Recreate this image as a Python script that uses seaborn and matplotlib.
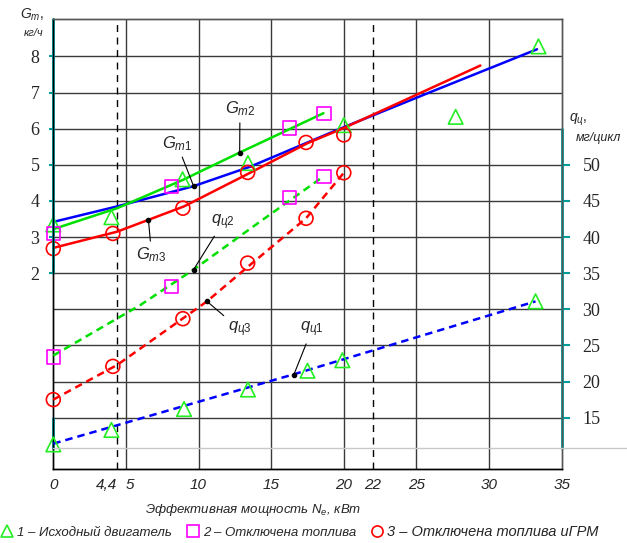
import numpy as np
import pandas as pd
import matplotlib
matplotlib.use("Agg")
import matplotlib.pyplot as plt
from matplotlib.lines import Line2D
import seaborn as sns

# ---------------- data ----------------
# solid curves: fuel consumption G_t, kg/h
gt1_x = [0, 4.4, 9.66, 13.56, 19.8, 26.0, 33.3]
gt1_y = [3.42, 3.85, 4.41, 4.95, 6.01, 7.02, 8.2]
gt2_x = [0, 4.4, 8.9, 12.83, 18.6]
gt2_y = [3.22, 3.8, 4.58, 5.34, 6.43]
gt3_x = [0, 4.4, 9.0, 13.4, 17.5, 20.0, 29.4]
gt3_y = [2.7, 3.15, 3.85, 4.75, 5.6, 6.02, 7.75]

# dashed curves: cyclic fuel supply q_c, mg/cycle
q1_x = [0, 16.55, 33.2]
q1_y = [11.4, 21.0, 31.1]
q2_x = [0, 6.0, 9.66, 14.0, 18.6]
q2_y = [23.6, 30.6, 35.5, 41.8, 48.4]
q3_x = [0, 4.4, 10.58, 13.4, 17.4, 20.0]
q3_y = [17.5, 22.3, 31.1, 35.9, 42.6, 48.9]

# measured points
m1_gx = [0, 4.0, 8.9, 13.4, 20.0, 27.7, 33.4]
m1_g = [3.35, 3.55, 4.6, 5.05, 6.1, 6.33, 8.28]
m1_qx = [0, 4.0, 9.0, 13.4, 17.5, 19.9, 33.2]
m1_q = [11.3, 13.3, 16.2, 18.9, 21.5, 22.95, 31.1]
m2_x = [0, 8.16, 16.28, 18.63]
m2_g = [3.1, 4.40, 6.02, 6.43]
m2_q = [23.4, 33.2, 45.5, 48.4]
m3_x = [0, 4.1, 8.92, 13.38, 17.4, 20.0]
m3_g = [2.68, 3.1, 3.80, 4.79, 5.62, 5.83]
m3_q = [17.5, 22.1, 28.7, 36.4, 42.6, 48.9]

x_ticks = [0, 4.4, 5, 10, 15, 20, 22, 25, 30, 35]
x_ticklabels = ["0", "4,4", "5", "10", "15", "20", "22", "25", "30", "35"]
g_ticks = [2, 3, 4, 5, 6, 7, 8]
q_ticks = [15, 20, 25, 30, 35, 40, 45, 50]
mark_lines = [4.4, 22]

legend_labels = ["1 – Исходный двигатель", "2 – Отключена топлива",
                 "3 – Отключена топлива иГРМ"]
xlabel = "Эффективная мощность $N_е$, кВт"

# ---------------- styling ----------------
sns.set_style("white")
SANS = ["Liberation Sans", "DejaVu Sans"]
SERIF = ["Liberation Serif", "DejaVu Serif"]
plt.rcParams["font.family"] = SANS
plt.rcParams["mathtext.fontset"] = "custom"
plt.rcParams["mathtext.rm"] = "Liberation Sans"
plt.rcParams["mathtext.it"] = "Liberation Sans:italic"

BLUE = "#0000ff"
GREEN = "#00e000"
LIME = "#22ee22"
RED = "#ff0000"
MAG = "#ff00ff"
TEAL = "#009c9c"
GRID = "#3a3a3a"

W, H = 627, 543
fig = plt.figure(figsize=(W / 100, H / 100), dpi=100)
x0, x1, ytop, ybot = 53.3, 561.7, 19.3, 469.3
ax = fig.add_axes([x0 / W, 1 - ybot / H, (x1 - x0) / W, (ybot - ytop) / H])

G_LO, G_HI = -3.43, 9.03
ax.set_xlim(0, 35)
ax.set_ylim(G_LO, G_HI)
ax2 = ax.twinx()
ax2.set_ylim(5 * G_LO + 25, 5 * G_HI + 25)

# grid
for g in range(-2, 9):
    ax.axhline(g, color=GRID, lw=1.0, zorder=0)
for xv in [5, 10, 15, 20, 25, 30]:
    ax.axvline(xv, color=GRID, lw=1.0, zorder=0)
for xv in mark_lines:
    ax.axvline(xv, color="black", lw=1.0, ls=(0, (5, 4)), zorder=0)

for s in ["top", "right"]:
    ax.spines[s].set_color("#555555")
    ax2.spines[s].set_color("#555555")
for s in ["left", "bottom"]:
    ax.spines[s].set_color("black")
    ax2.spines[s].set_color("black")
for a in (ax, ax2):
    for s in a.spines.values():
        s.set_linewidth(1.0)

g_line = 2 - (448 - 273.3) / 36.1
def frac(g):
    return (g - G_LO) / (G_HI - G_LO)
ax.axvline(0, frac(2), 1, color=TEAL, lw=2, clip_on=False, zorder=5)
ax.axvline(0, frac(g_line), frac(-2), color=TEAL, lw=2, clip_on=False, zorder=5)
ax.axvline(35, frac(g_line), frac(6), color=TEAL, lw=2, clip_on=False, zorder=5)
fig.add_artist(Line2D([x0 / W, 1], [1 - 448 / H] * 2, color="#c8c8c8", lw=1))

# curves via seaborn
def curve(a, xs, ys, color, ls):
    df = pd.DataFrame({"x": xs, "y": ys})
    sns.lineplot(data=df, x="x", y="y", ax=a, color=color, lw=1.8,
                 linestyle=ls, sort=False, estimator=None, zorder=3)

curve(ax, gt1_x, gt1_y, BLUE, "-")
curve(ax, gt2_x, gt2_y, GREEN, "-")
curve(ax, gt3_x, gt3_y, RED, "-")
curve(ax2, q1_x, q1_y, BLUE, (0, (3, 2)))
curve(ax2, q2_x, q2_y, GREEN, (0, (3, 2)))
curve(ax2, q3_x, q3_y, RED, (0, (3, 2)))

def points(a, xs, ys, marker, color, size):
    df = pd.DataFrame({"x": xs, "y": ys})
    sns.scatterplot(data=df, x="x", y="y", ax=a, marker=marker, s=size,
                    facecolor="none", edgecolor=color, linewidth=1.2,
                    zorder=4, clip_on=False)

points(ax, m1_gx, m1_g, "^", LIME, 110)
points(ax2, m1_qx, m1_q, "^", LIME, 110)
points(ax, m2_x, m2_g, "s", MAG, 90)
points(ax2, m2_x, m2_q, "s", MAG, 90)
points(ax, m3_x, m3_g, "o", RED, 100)
points(ax2, m3_x, m3_q, "o", RED, 100)

# annotations
def note(a, text, xy, xytext):
    a.annotate(text, xy=xy, xytext=xytext, fontsize=12, style="italic",
               ha="center", va="center",
               arrowprops=dict(arrowstyle="-", color="black", lw=0.8,
                               shrinkA=1, shrinkB=0), zorder=6)
    a.plot([xy[0]], [xy[1]], "o", ms=3, color="black", zorder=6)

note(ax, "$G_{т2}$", (12.83, 5.34), (12.85, 6.55))
note(ax, "$G_{т1}$", (9.66, 4.41), (8.5, 5.6))
note(ax, "$G_{т3}$", (6.55, 3.47), (6.77, 2.5))
note(ax2, "$q_{ц2}$", (9.66, 35.5), (11.7, 42.1))
note(ax2, "$q_{ц3}$", (10.58, 31.1), (12.85, 27.2))
note(ax2, "$q_{ц1}$", (16.55, 20.9), (17.8, 27.2))

# ticks
ax.set_xticks(x_ticks)
ax.set_xticklabels(x_ticklabels)
ax.tick_params(axis="x", length=0, pad=6)
for lab, txt in zip(ax.get_xticklabels(), x_ticklabels):
    lab.set_fontstyle("italic")
    lab.set_fontsize(11)
    if txt == "4,4":
        lab.set_ha("right")
    elif txt == "5":
        lab.set_ha("left")
ax.set_yticks(g_ticks)
ax.set_yticklabels([str(v) for v in g_ticks])
ax.tick_params(axis="y", length=3, width=1.5, color=TEAL, direction="out", pad=7)
for lab in ax.get_yticklabels():
    lab.set_family(SERIF)
    lab.set_fontsize(13)
ax2.set_yticks(q_ticks)
ax2.set_yticklabels([str(v) for v in q_ticks])
ax2.tick_params(axis="y", length=6, width=1.5, color=TEAL, direction="out", pad=9)
for lab in ax2.get_yticklabels():
    lab.set_family(SERIF)
    lab.set_fontsize(13)
ax.set_xlabel("")
ax.set_ylabel("")
ax2.set_ylabel("")

# axis titles
fig.text(32 / W, 1 - 15 / H, "$G_{т},$", fontsize=10, style="italic", ha="center", va="center")
fig.text(34 / W, 1 - 33 / H, "кг/ч", fontsize=8, style="italic", ha="center", va="center")
fig.text(578 / W, 1 - 120 / H, "$q_{ц},$", fontsize=10, style="italic", ha="center", va="center")
fig.text(598 / W, 1 - 138 / H, "мг/цикл", fontsize=9, style="italic", ha="center", va="center")

fig.text(253 / W, 1 - 510 / H, xlabel, fontsize=9.5, style="italic", ha="center", va="center")

handles = [
    Line2D([], [], ls="none", marker="^", ms=9, mfc="none", mec=LIME, mew=1.2),
    Line2D([], [], ls="none", marker="s", ms=8, mfc="none", mec=MAG, mew=1.2),
    Line2D([], [], ls="none", marker="o", ms=8, mfc="none", mec=RED, mew=1.2),
]
leg = fig.legend(handles, legend_labels, loc="center", bbox_to_anchor=(0.478, 1 - 532 / H),
                 ncol=3, frameon=False, handletextpad=0.25, columnspacing=1.1,
                 handlelength=1.0, prop={"style": "italic", "size": 9.5})
leg.get_texts()[2].set_fontsize(10.5)

fig.savefig("out.png", dpi=100)
